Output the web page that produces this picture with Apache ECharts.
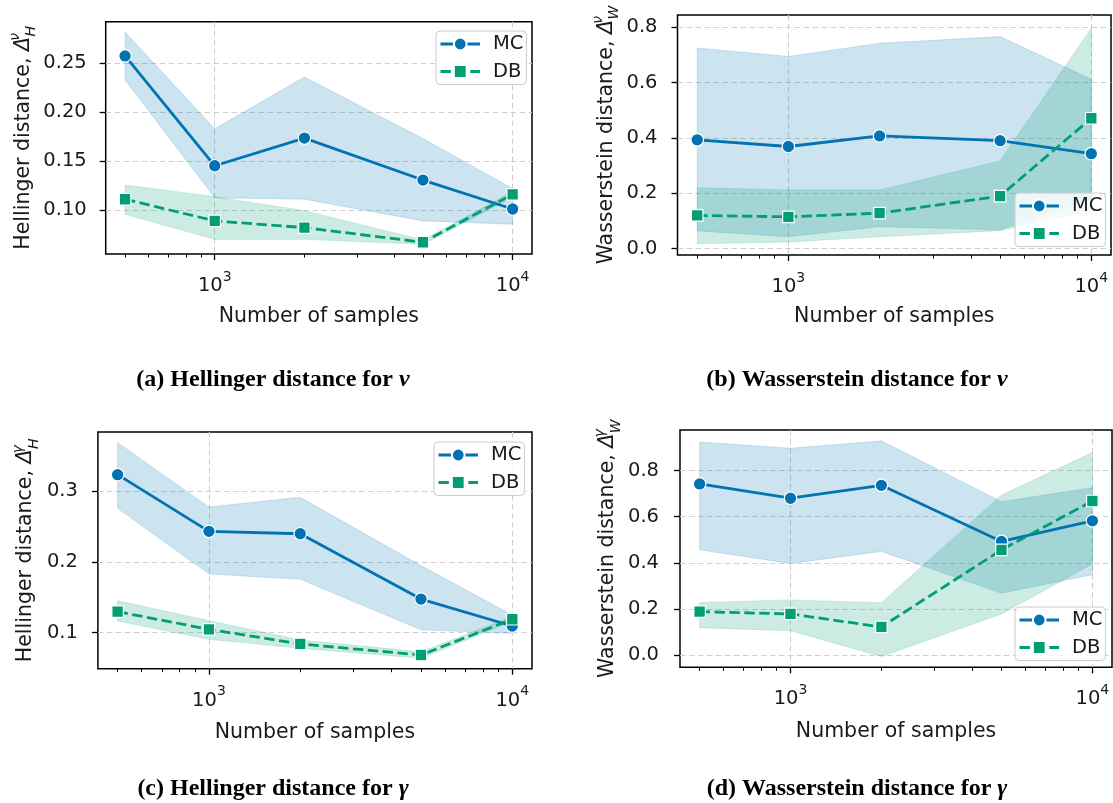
<!DOCTYPE html>
<html>
<head>
<meta charset="utf-8">
<script src="https://cdn.jsdelivr.net/npm/echarts@6/dist/echarts.min.js"></script>
<style>
  html, body { margin: 0; padding: 0; background: #ffffff; }
  #chart { width: 1113px; height: 803px; }
</style>
</head>
<body>
<div id="chart"></div>
<script>
// Sample sizes on the horizontal (log) axis
const samples = [500, 1000, 2000, 5000, 10000];
const xMajorExponents = [3, 4];
const xMinorSamples = [500, 600, 700, 800, 900, 2000, 3000, 4000, 5000, 6000, 7000, 8000, 9000];

// (a) Hellinger distance for nu
const hNuMC      = [0.2575, 0.1452, 0.1735, 0.1306, 0.1010];
const hNuMCLow   = [0.2330, 0.1125, 0.1110, 0.0888, 0.0854];
const hNuMCHigh  = [0.2820, 0.1830, 0.2360, 0.1730, 0.1220];
const hNuDB      = [0.1110, 0.0888, 0.0820, 0.0670, 0.1160];
const hNuDBLow   = [0.0956, 0.0700, 0.0700, 0.0650, 0.1130];
const hNuDBHigh  = [0.1256, 0.1136, 0.0993, 0.0693, 0.1190];
const hNuTicks   = [0.10, 0.15, 0.20, 0.25];

// (b) Wasserstein distance for nu
const wNuMC      = [0.393, 0.369, 0.407, 0.390, 0.343];
const wNuMCLow   = [0.064, 0.043, 0.079, 0.068, 0.180];
const wNuMCHigh  = [0.725, 0.694, 0.742, 0.766, 0.612];
const wNuDB      = [0.120, 0.115, 0.128, 0.190, 0.471];
const wNuDBLow   = [0.018, 0.024, 0.043, 0.065, 0.140];
const wNuDBHigh  = [0.220, 0.212, 0.212, 0.317, 0.796];
const wNuTicks   = [0.0, 0.2, 0.4, 0.6, 0.8];

// (c) Hellinger distance for gamma
const hGaMC      = [0.3236, 0.2434, 0.2400, 0.1476, 0.1094];
const hGaMCLow   = [0.2760, 0.1830, 0.1755, 0.1040, 0.0990];
const hGaMCHigh  = [0.3689, 0.2780, 0.2915, 0.1950, 0.1250];
const hGaDB      = [0.1297, 0.1047, 0.0840, 0.0684, 0.1190];
const hGaDBLow   = [0.1165, 0.0906, 0.0780, 0.0637, 0.1160];
const hGaDBHigh  = [0.1450, 0.1170, 0.0896, 0.0730, 0.1230];
const hGaTicks   = [0.1, 0.2, 0.3];

// (d) Wasserstein distance for gamma
const wGaMC      = [0.742, 0.680, 0.736, 0.4926, 0.582];
const wGaMCLow   = [0.456, 0.397, 0.449, 0.268, 0.348];
const wGaMCHigh  = [0.924, 0.897, 0.929, 0.665, 0.726];
const wGaDB      = [0.188, 0.178, 0.1215, 0.456, 0.668];
const wGaDBLow   = [0.1186, 0.1056, -0.007, 0.178, 0.395];
const wGaDBHigh  = [0.227, 0.239, 0.227, 0.694, 0.878];
const wGaTicks   = [0.0, 0.2, 0.4, 0.6, 0.8];

const captions = [
  '(a) Hellinger distance for {i|ν}',
  '(b) Wasserstein distance for {i|ν}',
  '(c) Hellinger distance for {i|γ}',
  '(d) Wasserstein distance for {i|γ}'
];

const BLUE = '#0173b2';
const GREEN = '#029e73';
const BLUE_FILL = 'rgba(1,115,178,0.2)';
const GREEN_FILL = 'rgba(2,158,115,0.2)';
const BLUE_EDGE = 'rgba(1,115,178,0.2)';
const GREEN_EDGE = 'rgba(2,158,115,0.2)';
const INK = '#1a1a1a';
const FONT = 'DejaVu Sans';
const TICK_SIZE = 19.5;
const NAME_SIZE = 20.5;

// Log-scaled horizontal axis (5% margins in log space)
const logMin = Math.log10(samples[0]);
const logMax = Math.log10(samples[samples.length - 1]);
const logPad = (logMax - logMin) * 0.05;
const xMin = logMin - logPad;
const xMax = logMax + logPad;
const xMinorLog = xMinorSamples.map(v => Math.log10(v));

const panels = [
  { mc: hNuMC, mcLo: hNuMCLow, mcHi: hNuMCHigh, db: hNuDB, dbLo: hNuDBLow, dbHi: hNuDBHigh,
    ticks: hNuTicks, dec: 2, yMin: 0.055, yMax: 0.2925,
    yName: 'Hellinger distance, {d|Δ}{sup|ν}{sub|H}',
    grid: { left: 105.7, top: 21.7, width: 426.3, height: 232.3 },
    yNameGap: 67, yLabelMargin: 19, xNameGap: 52,
    legend: { left: 436, top: 31 }, caption: { left: 268, top: 363 } },
  { mc: wNuMC, mcLo: wNuMCLow, mcHi: wNuMCHigh, db: wNuDB, dbLo: wNuDBLow, dbHi: wNuDBHigh,
    ticks: wNuTicks, dec: 1, yMin: -0.023, yMax: 0.844,
    yName: 'Wasserstein distance, {d|Δ}{sup|ν}{sub|W}',
    grid: { left: 677.5, top: 15, width: 433.5, height: 240 },
    yNameGap: 56, yLabelMargin: 20, xNameGap: 51,
    legend: { left: 1015, top: 193 }, caption: { left: 852, top: 363 } },
  { mc: hGaMC, mcLo: hGaMCLow, mcHi: hGaMCHigh, db: hGaDB, dbLo: hGaDBLow, dbHi: hGaDBHigh,
    ticks: hGaTicks, dec: 1, yMin: 0.049, yMax: 0.384,
    yName: 'Hellinger distance, {d|Δ}{sup|γ}{sub|H}',
    grid: { left: 97.9, top: 432, width: 434.1, height: 236.7 },
    yNameGap: 57, yLabelMargin: 20, xNameGap: 53,
    legend: { left: 434, top: 442 }, caption: { left: 268, top: 772 } },
  { mc: wGaMC, mcLo: wGaMCLow, mcHi: wGaMCHigh, db: wGaDB, dbLo: wGaDBLow, dbHi: wGaDBHigh,
    ticks: wGaTicks, dec: 1, yMin: -0.0535, yMax: 0.976,
    yName: 'Wasserstein distance, {d|Δ}{sup|γ}{sub|W}',
    grid: { left: 680, top: 430, width: 432, height: 237.3 },
    yNameGap: 57, yLabelMargin: 21, xNameGap: 54,
    legend: { left: 1015, top: 607 }, caption: { left: 852, top: 772 } }
];

const pairs = (ys) => samples.map((n, k) => [Math.log10(n), ys[k]]);

// Shaded min–max band drawn as one polygon through the axis scales
function bandSeries(xi, yi, lo, hi, fill, edge) {
  return {
    type: 'custom', xAxisIndex: xi, yAxisIndex: yi, silent: true, z: 1,
    data: samples.map((n, k) => [Math.log10(n), lo[k], hi[k]]),
    encode: { x: 0, y: [1, 2] },
    renderItem: (params, api) => {
      if (params.dataIndexInside !== 0) return null;
      const count = params.dataInsideLength;
      const upper = [], lower = [];
      for (let j = 0; j < count; j++) {
        upper.push(api.coord([api.value(0, j), api.value(2, j)]));
        lower.push(api.coord([api.value(0, j), api.value(1, j)]));
      }
      return {
        type: 'polygon',
        shape: { points: upper.concat(lower.reverse()) },
        style: { fill: fill, stroke: edge, lineWidth: 0.8 }
      };
    }
  };
}

const grids = [], xAxes = [], yAxes = [], series = [], legends = [], titles = [];

const nameRich = {
  d:   { fontFamily: FONT, fontSize: NAME_SIZE, fontStyle: 'italic', color: INK, lineHeight: 30 },
  sup: { fontFamily: FONT, fontSize: 14, fontStyle: 'italic', color: INK, lineHeight: 13, verticalAlign: 'top', width: 0.5 },
  sub: { fontFamily: FONT, fontSize: 14, fontStyle: 'italic', color: INK, lineHeight: 13, verticalAlign: 'bottom' }
};

panels.forEach((p, i) => {
  grids.push(Object.assign({
    show: true, borderColor: '#000000', borderWidth: 1.5, backgroundColor: 'transparent'
  }, p.grid));

  // Major ticks, labels and vertical grid lines at the decades
  xAxes.push({
    gridIndex: i, type: 'value', min: xMin, max: xMax, position: 'bottom',
    axisLine: { show: false, onZero: false },
    axisTick: { customValues: xMajorExponents, length: 6, lineStyle: { color: '#000', width: 1.3 } },
    axisLabel: {
      customValues: xMajorExponents, margin: 16,
      formatter: v => '{b|10}{s|' + Math.round(v) + '}',
      rich: {
        b: { fontFamily: FONT, fontSize: TICK_SIZE, color: INK, lineHeight: 26, verticalAlign: 'bottom' },
        s: { fontFamily: FONT, fontSize: 14, color: INK, lineHeight: 14, verticalAlign: 'top' }
      }
    },
    splitLine: { show: true, lineStyle: { color: '#cfcfcf', width: 1.1, type: [5.5, 3.5] } },
    name: 'Number of samples', nameLocation: 'middle', nameGap: p.xNameGap,
    nameTextStyle: { fontFamily: FONT, fontSize: NAME_SIZE, color: INK }
  });
  // Minor ticks between decades
  xAxes.push({
    gridIndex: i, type: 'value', min: xMin, max: xMax, position: 'bottom',
    axisLine: { show: false, onZero: false },
    axisTick: { customValues: xMinorLog, length: 3.5, lineStyle: { color: '#000', width: 1 } },
    axisLabel: { show: false },
    splitLine: { show: false }
  });

  yAxes.push({
    gridIndex: i, type: 'value', min: p.yMin, max: p.yMax,
    axisLine: { show: false, onZero: false },
    axisTick: { customValues: p.ticks, length: 6, lineStyle: { color: '#000', width: 1.3 } },
    axisLabel: {
      customValues: p.ticks, margin: p.yLabelMargin,
      formatter: v => v.toFixed(p.dec),
      fontFamily: FONT, fontSize: TICK_SIZE, color: INK
    },
    splitLine: { show: true, lineStyle: { color: '#cfcfcf', width: 1.1, type: [5.5, 3.5] } },
    name: p.yName, nameLocation: 'middle', nameRotate: 90, nameGap: p.yNameGap,
    nameTextStyle: { fontFamily: FONT, fontSize: NAME_SIZE, color: INK, lineHeight: 30, rich: nameRich }
  });

  const xi = i * 2;
  series.push(bandSeries(xi, i, p.mcLo, p.mcHi, BLUE_FILL, BLUE_EDGE));
  series.push(bandSeries(xi, i, p.dbLo, p.dbHi, GREEN_FILL, GREEN_EDGE));

  series.push({
    name: 'MC', type: 'line', xAxisIndex: xi, yAxisIndex: i, data: pairs(p.mc),
    symbol: 'circle', symbolSize: 12.5, z: 3,
    lineStyle: { color: BLUE, width: 2.8 },
    itemStyle: { color: BLUE, borderColor: '#ffffff', borderWidth: 1.2 },
    emphasis: { disabled: true }
  });
  series.push({
    name: 'DB', type: 'line', xAxisIndex: xi, yAxisIndex: i, data: pairs(p.db),
    symbol: 'rect', symbolSize: 11.5, z: 4,
    lineStyle: { color: GREEN, width: 2.8, type: [10.4, 4.5] },
    itemStyle: { color: GREEN, borderColor: '#ffffff', borderWidth: 1.2 },
    emphasis: { disabled: true }
  });

  legends.push({
    data: ['MC', 'DB'], orient: 'vertical', left: p.legend.left, top: p.legend.top,
    itemWidth: 39.5, itemHeight: 16, itemGap: 7.5, padding: [3, 3, 3, 3],
    backgroundColor: 'rgba(255,255,255,0.8)', borderColor: '#cccccc', borderWidth: 1, borderRadius: 4,
    selectedMode: false,
    lineStyle: { width: 3 },
    textStyle: { fontFamily: FONT, fontSize: TICK_SIZE, color: INK, lineHeight: 20, padding: [0, 0, 0, 8] }
  });

  titles.push({
    text: captions[i], left: p.caption.left, top: p.caption.top, textAlign: 'center',
    textStyle: {
      fontFamily: 'Liberation Serif', fontWeight: 'bold', fontSize: 24, color: '#000',
      rich: { i: { fontFamily: 'Liberation Serif', fontWeight: 'bold', fontStyle: 'italic', fontSize: 24, color: '#000' } }
    }
  });
});

const chart = echarts.init(document.getElementById('chart'), null, { renderer: 'canvas' });
chart.setOption({
  animation: false,
  backgroundColor: '#ffffff',
  title: titles,
  legend: legends,
  grid: grids,
  xAxis: xAxes,
  yAxis: yAxes,
  series: series
});
</script>
</body>
</html>
